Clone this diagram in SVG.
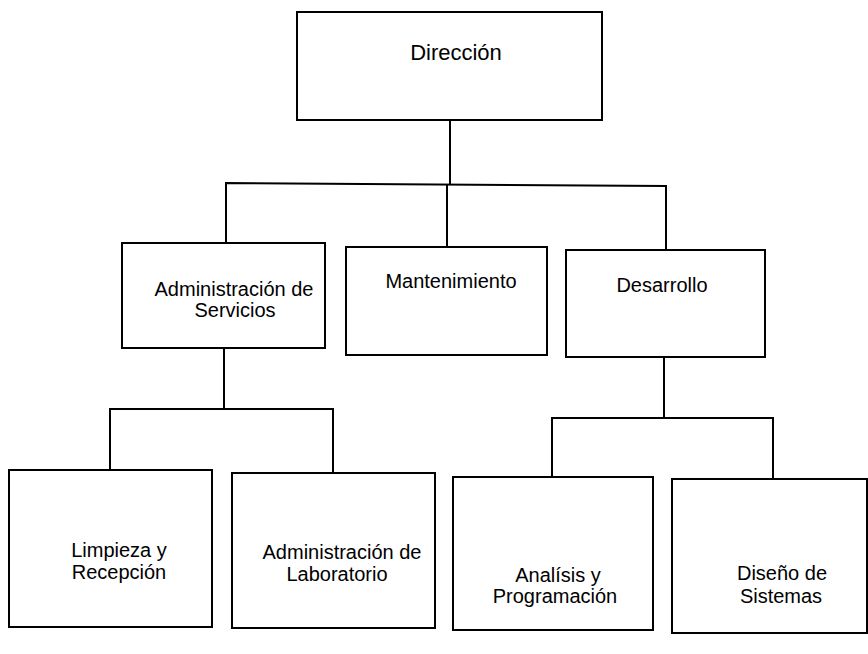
<svg xmlns="http://www.w3.org/2000/svg" width="868" height="654" viewBox="0 0 868 654">
<style>
.box{fill:#fff;stroke:#000;stroke-width:2}
.ln{fill:none;stroke:#000;stroke-width:2}
text{font-family:"Liberation Sans",Arial,sans-serif;font-size:20px;fill:#000;text-anchor:middle}
.big{font-size:22px}
</style>
<rect width="868" height="654" fill="#fff"/>
<g id="connectors">
<line class="ln" x1="450" y1="120" x2="450" y2="184"/>
<polyline class="ln" points="226,243 226,183 666,186 666,250"/>
<line class="ln" x1="447" y1="184" x2="447" y2="247"/>
<line class="ln" x1="224" y1="348" x2="224" y2="409"/>
<polyline class="ln" points="110,470 110,409 333,409 333,473"/>
<line class="ln" x1="664" y1="357" x2="664" y2="418"/>
<polyline class="ln" points="552,477 552,418 773,418 773,479"/>
</g>
<g id="direccion">
<rect class="box" x="297" y="12" width="305" height="108"/>
<text class="big" x="456" y="60">Dirección</text>
</g>
<g id="admin-servicios">
<rect class="box" x="122" y="243" width="203" height="105"/>
<text x="234" y="296">Administración de</text>
<text x="235" y="317">Servicios</text>
</g>
<g id="mantenimiento">
<rect class="box" x="346" y="247" width="201" height="108"/>
<text x="451" y="288">Mantenimiento</text>
</g>
<g id="desarrollo">
<rect class="box" x="566" y="250" width="199" height="107"/>
<text x="662" y="292">Desarrollo</text>
</g>
<g id="limpieza">
<rect class="box" x="9" y="470" width="203" height="157"/>
<text x="119" y="557">Limpieza y</text>
<text x="119" y="579">Recepción</text>
</g>
<g id="admin-laboratorio">
<rect class="box" x="232" y="473" width="203" height="155"/>
<text x="342" y="559">Administración de</text>
<text x="337" y="581">Laboratorio</text>
</g>
<g id="analisis">
<rect class="box" x="453" y="477" width="200" height="153"/>
<text x="558" y="582">Analísis y</text>
<text x="555" y="603">Programación</text>
</g>
<g id="diseno">
<rect class="box" x="672" y="479" width="195" height="154"/>
<text x="782" y="580">Diseño de</text>
<text x="781" y="603">Sistemas</text>
</g>
</svg>
